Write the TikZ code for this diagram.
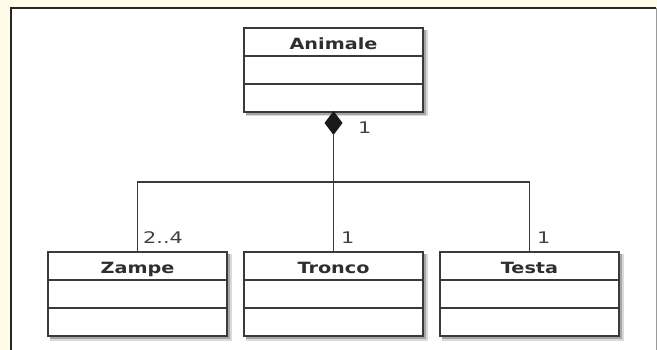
\documentclass[tikz,border=0pt]{standalone}
\usepackage{fontspec}
\setmainfont{DejaVu Sans}
\usetikzlibrary{calc,shapes.geometric}
\definecolor{cream}{RGB}{254,252,232}
\definecolor{linec}{RGB}{58,58,58}
\tikzset{
  classbox/.style={draw=linec, line width=1.4pt, fill=white, minimum width=179pt, minimum height=84pt, inner sep=0pt, outer sep=0pt},
  divider/.style={draw=linec, line width=1.2pt},
  classtitle/.style={font=\bfseries\fontsize{15.5}{15.5}\selectfont, text=black!82, anchor=base, inner sep=0pt},
  mult/.style={font=\fontsize{16}{16}\selectfont, text=black!75, anchor=base west, inner sep=0pt},
  conn/.style={draw=linec, line width=1.2pt},
  comp/.style={diamond, fill=black!90, minimum width=18pt, minimum height=24pt, inner sep=0pt, outer sep=0pt}
}
\newcommand\umlclass[4]{%
  \fill[black!15] ({#2-87.5},{#3+2}) rectangle ({#2+89.5+4.5},{#3+84+4.5});
  \fill[black!35] ({#2-87.5},{#3+2}) rectangle ({#2+89.5+3},{#3+84+3});
  \node[classbox, anchor=north] (#1) at (#2,#3) {};
  \draw[divider] ($(#1.north west)+(0,28)$) -- ($(#1.north east)+(0,28)$);
  \draw[divider] ($(#1.north west)+(0,56)$) -- ($(#1.north east)+(0,56)$);
  \node[classtitle] (#1-t) at ($(#1.north)+(0,22)$) {\scalebox{1.24}[1]{#4}};
}
\begin{document}
\begin{tikzpicture}[x=1pt,y=-1pt]
  \useasboundingbox (0,0) rectangle (657,350);
  \fill[cream] (0,0) rectangle (657,350);
  \fill[white] (11,8) rectangle (656,350);
  \draw[black!85, line width=2pt] (11,352) -- (11,8) -- (656,8);
  \draw[black!40, line width=1pt] (656,8) -- (656,352);

  \umlclass{animale}{333.5}{28}{Animale}
  \umlclass{zampe}{137.5}{252}{Zampe}
  \umlclass{tronco}{333.5}{252}{Tronco}
  \umlclass{testa}{529.5}{252}{Testa}

  \node[comp] (comp) at (333.5,123) {};
  \coordinate (bus) at (333.5,182);

  \draw[conn] (comp.south) -- (tronco.north);
  \draw[conn] (zampe.north) |- (bus) -| (testa.north);

  \node[mult] (m0) at (358,133.5) {\scalebox{1.3}[1]{1}};
  \node[mult] (m1) at (143,243.5) {\scalebox{1.3}[1]{2..4}};
  \node[mult] (m2) at (341,243.5) {\scalebox{1.3}[1]{1}};
  \node[mult] (m3) at (537,243.5) {\scalebox{1.3}[1]{1}};
\end{tikzpicture}
\end{document}
